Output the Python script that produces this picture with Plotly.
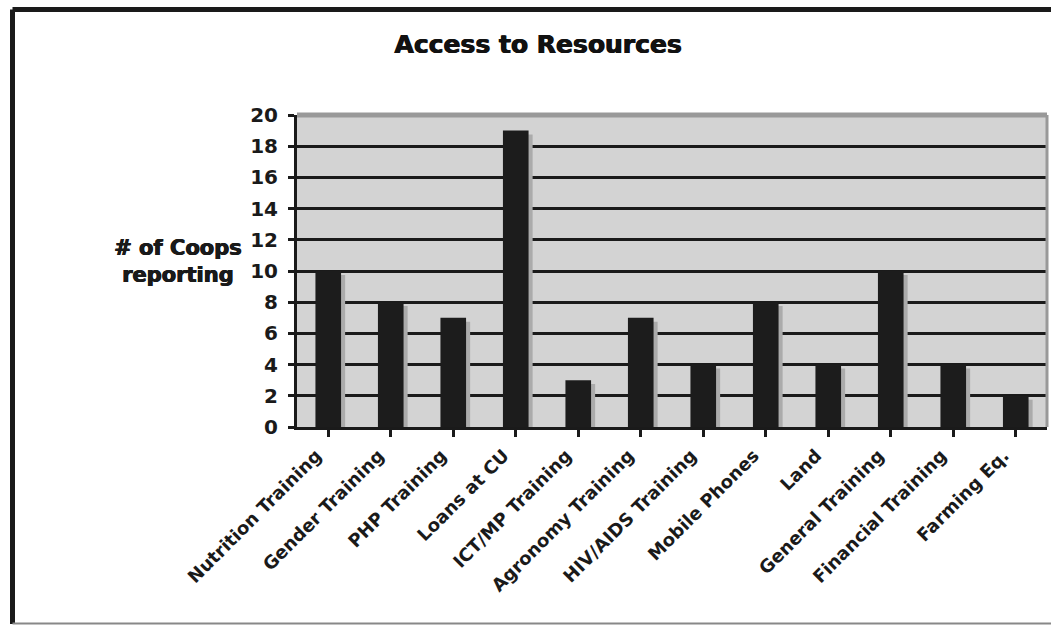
import plotly.graph_objects as go

categories = ["Nutrition Training", "Gender Training", "PHP Training", "Loans at CU",
              "ICT/MP Training", "Agronomy Training", "HIV/AIDS Training", "Mobile Phones",
              "Land", "General Training", "Financial Training", "Farming Eq."]
values = [10, 8, 7, 19, 3, 7, 4, 8, 4, 10, 4, 2]
y_ticks = list(range(0, 21, 2))

W, H = 1051, 625
L, R, T, B = 297, 4, 115, 198
pw, ph = W - L - R, H - T - B

def px(x):
    return (x - L) / pw

def py(y):
    return (H - B - y) / ph

FONT = "DejaVu Sans"
HEAVY = "0.7px 0 0 #111, -0.3px 0 0 #111"
n = len(categories)
idx = list(range(n))

fig = go.Figure()
# shadow
fig.add_trace(go.Bar(
    x=idx, y=[v - 0.25 for v in values], width=0.41, offset=-0.205 + 0.065,
    marker=dict(color="#ababab", line=dict(width=0)), hoverinfo="skip", showlegend=False))
# bars
fig.add_trace(go.Bar(
    x=idx, y=values, width=0.41, offset=-0.205,
    marker=dict(color="#1c1c1c", line=dict(width=0)), showlegend=False))

fig.update_layout(
    width=W, height=H, barmode="overlay",
    margin=dict(l=L, r=R, t=T, b=B, pad=0),
    paper_bgcolor="white", plot_bgcolor="#d3d3d3",
    font=dict(family=FONT, color="#1a1a1a"),
    title=dict(text="<b>Access to Resources</b>", xref="container", x=538 / W, xanchor="center",
               y=1 - 44 / H, yanchor="middle",
               font=dict(size=25, family=FONT, color="#111", shadow=HEAVY)),
    xaxis=dict(
        tickmode="array", tickvals=idx, ticktext=categories, range=[-0.5, n - 0.5],
        tickangle=-45, tickfont=dict(size=18, family=FONT, color="#1a1a1a", weight="bold"),
        ticklabelshift=-12, ticklabelstandoff=1,
        showline=True, linecolor="#1a1a1a", linewidth=3,
        ticks="outside", ticklen=7, tickwidth=3, tickcolor="#1a1a1a",
        tickson="boundaries", showgrid=False, zeroline=False),
    yaxis=dict(
        range=[0, 20], tickvals=y_ticks,
        tickfont=dict(size=20, family=FONT, color="#1a1a1a", weight="bold"),
        ticklabelstandoff=6,
        showline=True, linecolor="#1a1a1a", linewidth=3,
        ticks="outside", ticklen=6, tickwidth=3, tickcolor="#1a1a1a",
        showgrid=True, gridcolor="#1a1a1a", gridwidth=3, zeroline=False),
    annotations=[dict(text="<b># of Coops<br>reporting</b>", xref="paper", yref="paper",
                      x=px(178), y=py(261), xanchor="center", yanchor="middle", align="center",
                      showarrow=False,
                      font=dict(size=21, family=FONT, color="#1a1a1a", shadow=HEAVY))],
    shapes=[
        # plot area top and right gray border
        dict(type="line", xref="paper", yref="paper", x0=0, x1=1, y0=1, y1=1,
             line=dict(color="#999999", width=5)),
        dict(type="line", xref="paper", yref="paper", x0=1, x1=1, y0=0, y1=1,
             line=dict(color="#999999", width=3)),
        # outer frame
        dict(type="line", xref="paper", yref="paper", x0=px(12.5), x1=px(1060), y0=py(9.5), y1=py(9.5),
             line=dict(color="#1a1a1a", width=5)),
        dict(type="line", xref="paper", yref="paper", x0=px(12.5), x1=px(12.5), y0=py(9.5), y1=py(624),
             line=dict(color="#1a1a1a", width=5)),
        dict(type="line", xref="paper", yref="paper", x0=px(12.5), x1=px(1060), y0=py(623.5), y1=py(623.5),
             line=dict(color="#888888", width=2)),
    ],
)

fig.write_html("out.html")
